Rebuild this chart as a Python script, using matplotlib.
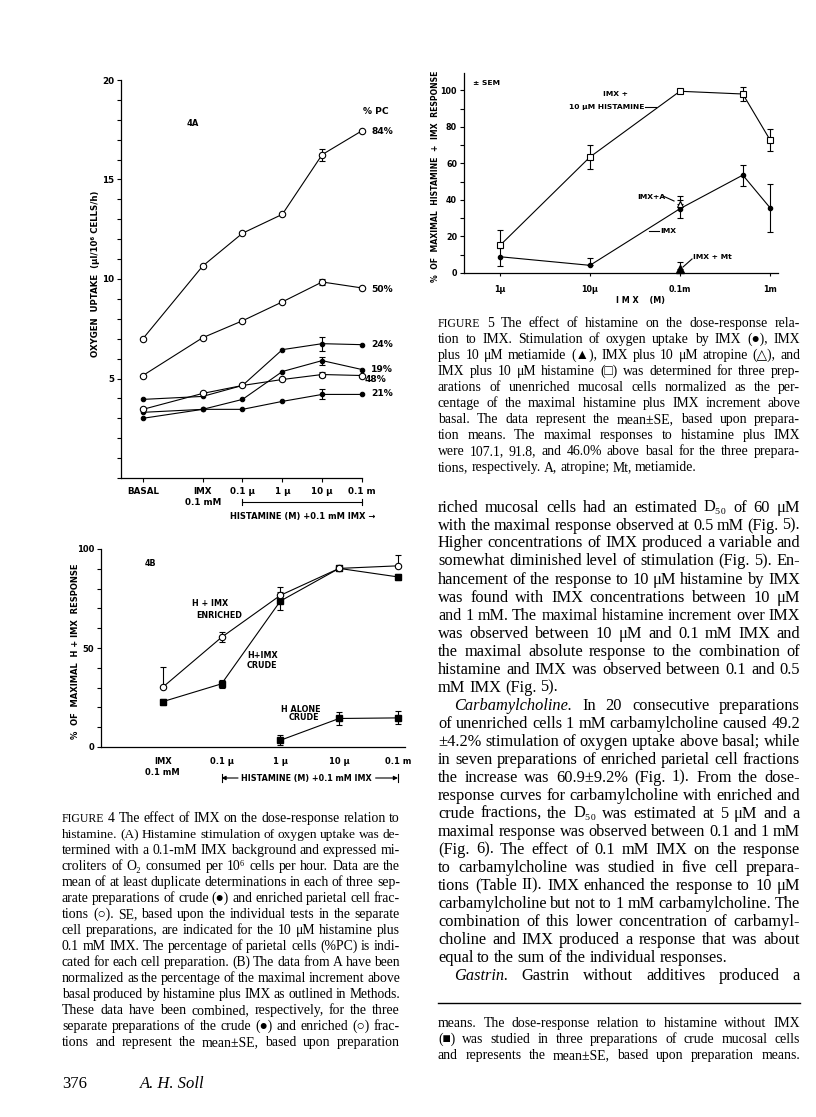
import matplotlib
matplotlib.use('Agg')
import matplotlib.pyplot as plt
from matplotlib.font_manager import FontProperties
from matplotlib.lines import Line2D
from matplotlib.transforms import blended_transform_factory

W, H = 816, 1117

# ---- Figure 4A: oxygen uptake (ul/10^6 cells/h), one line per cell preparation
a_ticks = ['BASAL', 'IMX\n0.1 mM', '0.1 μ', '1 μ', '10 μ', '0.1 m']
a_pos = [-2.5, -1, 0, 1, 2, 3]
a_pc = ['84%', '50%', '24%', '19%', '48%', '21%']
a_open = [True, True, False, False, True, False]
pc84 = [7.0, 10.65, 12.3, 13.25, 16.25, 17.45]
pc50 = [5.15, 7.05, 7.9, 8.85, 9.85, 9.55]
pc24 = [3.95, 4.1, 4.65, 6.45, 6.75, 6.7]
pc19 = [3.3, 3.45, 3.95, 5.35, 5.9, 5.45]
pc48 = [3.45, 4.25, 4.65, 4.95, 5.2, 5.15]
pc21 = [3.0, 3.45, 3.45, 3.85, 4.2, 4.2]
a_err10 = [0.3, 0.15, 0.35, 0.2, 0.12, 0.25]   # SE at 10 uM histamine only

# ---- Figure 4B: % of maximal H + IMX response
b_ticks = ['IMX\n0.1 mM', '0.1 μ', '1 μ', '10 μ', '0.1 m']
b_pos = [0, 1, 2, 3, 4]
enriched = [30.2, 55.4, 76.6, 90.2, 91.5]
enriched_lo = [0, 2.5, 0, 0, 0]
enriched_hi = [10.1, 2.5, 4.2, 0, 5.4]
crude = [22.9, 31.9, 73.7, 90.2, 85.9]
crude_err = [1.5, 2.0, 4.5, 0, 1.5]
alone_pos = [2, 3, 4]
alone = [3.4, 14.4, 14.7]
alone_err = [2.5, 3.4, 3.3]

# ---- Figure 5: IMX dose response (M)
c_conc = [1e-6, 1e-5, 1e-4, 5e-4, 1e-3]
c_ticks = ['1μ', '10μ', '0.1m', '1m']
hist = [15.1, 63.5, 99.5, 98.0, 73.0]
hist_lo = [0, 6.6, 0, 4.0, 6.0]
hist_hi = [8.6, 6.6, 0, 4.0, 6.0]
imx = [8.9, 4.2, 35.2, 53.6, 35.8]
imx_lo = [5.0, 0, 5.0, 5.7, 13.2]
imx_hi = [5.0, 4.0, 5.0, 5.7, 13.2]
atro_conc, atro, atro_err = 1e-4, 38.0, 4.3
meti_conc, meti, meti_err = 1e-4, 2.2, 4.0

# ---- page text
cap4 = [
    "^FIGURE 4 The effect of IMX on the dose-response relation to",
    "histamine. (A) Histamine stimulation of oxygen uptake was de-",
    "termined with a 0.1-mM IMX background and expressed mi-",
    "croliters of O₂ consumed per 10⁶ cells per hour. Data are the",
    "mean of at least duplicate determinations in each of three sep-",
    "arate preparations of crude (●) and enriched parietal cell frac-",
    "tions (○). SE, based upon the individual tests in the separate",
    "cell preparations, are indicated for the 10 μM histamine plus",
    "0.1 mM IMX. The percentage of parietal cells (%PC) is indi-",
    "cated for each cell preparation. (B) The data from A have been",
    "normalized as the percentage of the maximal increment above",
    "basal produced by histamine plus IMX as outlined in Methods.",
    "These data have been combined, respectively, for the three",
    "separate preparations of the crude (●) and enriched (○) frac-",
    "tions and represent the mean±SE, based upon preparation",
]
cap5 = [
    "^FIGURE 5 The effect of histamine on the dose-response rela-",
    "tion to IMX. Stimulation of oxygen uptake by IMX (●), IMX",
    "plus 10 μM metiamide (▲), IMX plus 10 μM atropine (△), and",
    "IMX plus 10 μM histamine (□) was determined for three prep-",
    "arations of unenriched mucosal cells normalized as the per-",
    "centage of the maximal histamine plus IMX increment above",
    "basal. The data represent the mean±SE, based upon prepara-",
    "tion means. The maximal responses to histamine plus IMX",
    "were 107.1, 91.8, and 46.0% above basal for the three prepara-",
    "tions, respectively. A, atropine; Mt, metiamide.",
]
body = [
    "riched mucosal cells had an estimated D₅₀ of 60 μM",
    "with the maximal response observed at 0.5 mM (Fig. 5).",
    "Higher concentrations of IMX produced a variable and",
    "somewhat diminished level of stimulation (Fig. 5). En-",
    "hancement of the response to 10 μM histamine by IMX",
    "was found with IMX concentrations between 10 μM",
    "and 1 mM. The maximal histamine increment over IMX",
    "was observed between 10 μM and 0.1 mM IMX and",
    "the maximal absolute response to the combination of",
    "histamine and IMX was observed between 0.1 and 0.5",
    "mM IMX (Fig. 5).",
    ">*Carbamylcholine. In 20 consecutive preparations",
    "of unenriched cells 1 mM carbamylcholine caused 49.2",
    "±4.2% stimulation of oxygen uptake above basal; while",
    "in seven preparations of enriched parietal cell fractions",
    "the increase was 60.9±9.2% (Fig. 1). From the dose-",
    "response curves for carbamylcholine with enriched and",
    "crude fractions, the D₅₀ was estimated at 5 μM and a",
    "maximal response was observed between 0.1 and 1 mM",
    "(Fig. 6). The effect of 0.1 mM IMX on the response",
    "to carbamylcholine was studied in five cell prepara-",
    "tions (Table II). IMX enhanced the response to 10 μM",
    "carbamylcholine but not to 1 mM carbamylcholine. The",
    "combination of this lower concentration of carbamyl-",
    "choline and IMX produced a response that was about",
    "equal to the sum of the individual responses.",
    ">*Gastrin. Gastrin without additives produced a",
]
foot = [
    "means. The dose-response relation to histamine without IMX",
    "(■) was studied in three preparations of crude mucosal cells",
    "and represents the mean±SE, based upon preparation means.",
]

plt.rcParams['font.family'] = ['DejaVu Sans']
plt.rcParams['font.weight'] = 'bold'
SERIF = ['Liberation Serif', 'DejaVu Serif', 'DejaVu Sans']

fig = plt.figure(figsize=(W / 100, H / 100), dpi=100)
fig.patch.set_facecolor('white')


def rect(x0, y0, x1, y1):
    return [x0 / W, 1 - y1 / H, (x1 - x0) / W, (y1 - y0) / H]


def label(x, y, s, size=6.0, ha='left', **kw):
    fig.text(x / W, 1 - y / H, s, fontsize=size, ha=ha, va='center', **kw)


def seg(x0, y0, x1, y1, lw=0.8):
    fig.add_artist(Line2D([x0 / W, x1 / W], [1 - y0 / H, 1 - y1 / H], color='k', lw=lw))


def style(ax, size):
    for s in ['top', 'right']:
        ax.spines[s].set_visible(False)
    for s in ['left', 'bottom']:
        ax.spines[s].set_linewidth(0.9)
    ax.tick_params(which='both', direction='out', width=0.8, length=3, labelsize=size, pad=2)
    ax.set_facecolor('none')


# ================= Figure 4A =================
ax = fig.add_axes(rect(121, 80, 362, 478))
style(ax, 6.3)
series = [pc84, pc50, pc24, pc19, pc48, pc21]
for vals, err, op in zip(series, a_err10, a_open):
    ax.plot(a_pos, vals, '-o', color='k', lw=0.8, ms=4.6 if op else 3.2,
            mfc='white' if op else 'k', mec='k', mew=0.8, clip_on=False, zorder=3)
    ax.errorbar(a_pos[4], vals[4], yerr=err, fmt='none', ecolor='k', elinewidth=0.8,
                capsize=2.5, capthick=0.8, clip_on=False)
ax.set_xlim(-3.05, 3)
ax.set_ylim(0, 20)
ax.set_xticks(a_pos, a_ticks)
ax.set_yticks([5, 10, 15, 20], ['5', '10', '15', '20'])
ax.set_yticks(range(0, 21), minor=True)
ax.tick_params(axis='x', pad=3.5)
for t in ax.get_xticklabels():
    t.set_linespacing(1.3)
for s, y in zip(a_pc, [131, 289, 345, 369, 380, 394]):
    label(365 if s == '48%' else 371, y, s, size=6.6)
label(363, 112, '% PC', size=6.6)
label(187, 123, '4A', size=6.0)
label(95, 274, 'OXYGEN  UPTAKE  (μl/10⁶ CELLS/h)', size=6.2, ha='center', rotation=90)
tr = blended_transform_factory(ax.transData, fig.transFigure)
yb = 1 - 502 / H
ax.plot([0, 3], [yb, yb], color='k', lw=0.8, transform=tr, clip_on=False)
for xe in [0, 3]:
    ax.plot([xe, xe], [yb - 3 / H, yb + 3 / H], color='k', lw=0.8, transform=tr, clip_on=False)
label(230, 516, 'HISTAMINE (M) +0.1 mM IMX →', size=6.0)

# ================= Figure 4B =================
ax = fig.add_axes(rect(101, 549, 405, 747))
style(ax, 6.0)
ax.plot(b_pos, enriched, '-o', color='k', lw=0.8, ms=4.6, mfc='white', mew=0.8, clip_on=False, zorder=4)
ax.errorbar(b_pos, enriched, yerr=[enriched_lo, enriched_hi], fmt='none', ecolor='k',
            elinewidth=0.8, capsize=2.5, capthick=0.8, clip_on=False)
ax.plot(b_pos, crude, '-s', color='k', lw=0.8, ms=4.0, mfc='k', clip_on=False, zorder=3)
ax.errorbar(b_pos, crude, yerr=crude_err, fmt='none', ecolor='k', elinewidth=0.8,
            capsize=2.5, capthick=0.8, clip_on=False)
ax.plot(alone_pos, alone, '-s', color='k', lw=0.8, ms=4.0, mfc='k', clip_on=False, zorder=3)
ax.errorbar(alone_pos, alone, yerr=alone_err, fmt='none', ecolor='k', elinewidth=0.8,
            capsize=2.5, capthick=0.8, clip_on=False)
ax.set_xlim(-1.05, 4.12)
ax.set_ylim(0, 100)
ax.set_xticks(b_pos, b_ticks)
ax.set_yticks([0, 50, 100], ['0', '50', '100'])
ax.set_yticks(range(0, 101, 10), minor=True)
ax.tick_params(axis='x', length=0, pad=7)
for t in ax.get_xticklabels():
    t.set_linespacing(1.3)
label(145, 563, '4B', size=5.8)
label(192, 603, 'H + IMX', size=5.8)
label(196, 615, 'ENRICHED', size=5.8)
label(247, 655, 'H+IMX', size=5.8)
label(247, 665, 'CRUDE', size=5.8)
label(281, 709, 'H ALONE', size=5.8)
label(289, 718, 'CRUDE', size=5.8)
label(75, 651, '%  OF  MAXIMAL  H + IMX  RESPONSE', size=6.0, ha='center', rotation=90)
tr = blended_transform_factory(ax.transData, fig.transFigure)
yb = 1 - 778 / H
label(306, 778, 'HISTAMINE (M) +0.1 mM IMX', size=5.8, ha='center')
arrow = dict(arrowstyle='-|>', lw=0.8, color='k', mutation_scale=6, shrinkA=0, shrinkB=0)
ax.annotate('', xy=(1, yb), xytext=(1.28, yb), xycoords=tr, textcoords=tr, arrowprops=arrow)
ax.annotate('', xy=(4, yb), xytext=(3.62, yb), xycoords=tr, textcoords=tr, arrowprops=arrow)
for xe in [1, 4]:
    ax.plot([xe, xe], [yb - 4 / H, yb + 4 / H], color='k', lw=0.8, transform=tr, clip_on=False)

# ================= Figure 5 =================
ax = fig.add_axes(rect(464, 73, 778, 273))
style(ax, 5.8)
ax.set_xscale('log')
ax.plot(c_conc, hist, '-s', color='k', lw=0.8, ms=4.4, mfc='white', mew=0.8, clip_on=False, zorder=3)
ax.errorbar(c_conc, hist, yerr=[hist_lo, hist_hi], fmt='none', ecolor='k', elinewidth=0.8,
            capsize=2.5, capthick=0.8, clip_on=False)
ax.plot(c_conc, imx, '-o', color='k', lw=0.8, ms=3.0, clip_on=False, zorder=3)
ax.errorbar(c_conc, imx, yerr=[imx_lo, imx_hi], fmt='none', ecolor='k', elinewidth=0.8,
            capsize=2.5, capthick=0.8, clip_on=False)
ax.errorbar([atro_conc], [atro], yerr=[[0], [atro_err]], fmt='^', ms=5, mfc='white', mec='k',
            mew=0.8, ecolor='k', elinewidth=0.8, capsize=2.5, capthick=0.8, clip_on=False, zorder=4)
ax.errorbar([meti_conc], [meti], yerr=[[0], [meti_err]], fmt='^', ms=5.5, mfc='k', mec='k',
            ecolor='k', elinewidth=0.8, capsize=2.5, capthick=0.8, clip_on=False, zorder=4)
ax.set_xlim(10 ** -6.4, 10 ** -2.91)
ax.set_ylim(0, 109.5)
ax.set_xticks([1e-6, 1e-5, 1e-4, 1e-3], c_ticks)
ax.set_xticks([], minor=True)
ax.set_yticks(range(0, 101, 20), [str(v) for v in range(0, 101, 20)])
ax.set_yticks(range(0, 101, 10), minor=True)
ax.tick_params(axis='x', length=2, pad=7)
label(640, 301, 'I M X    (M)', size=5.8, ha='center')
label(435, 176, '%  OF  MAXIMAL  HISTAMINE  +  IMX  RESPONSE', size=5.6, ha='center', rotation=90)
label(473, 83, '± SEM', size=5.4)
label(603, 94, 'IMX +', size=5.4)
label(569, 107, '10 μM HISTAMINE', size=5.4)
seg(645, 107, 656, 107)
label(637, 197, 'IMX+A', size=5.4)
seg(663, 196, 674, 201)
seg(649, 231, 659, 231)
label(660, 231, 'IMX', size=5.4)
label(693, 257, 'IMX + Mt', size=5.4)
seg(683, 267, 692, 259)


# ================= page text =================
def fp(size, st='normal'):
    return FontProperties(family=SERIF, size=size, style=st, weight='normal')


def column(lines, x0, x1, base0, step, ragged=(), size=None, indent=16, q=0.8):
    r = fig.canvas.get_renderer()

    def split(line, sz):
        ind = indent if line.startswith('>') else 0
        items = []
        for w in line.lstrip('>').split():
            st, k = 'normal', 1.0
            if w.startswith('*'):
                w, st = w[1:], 'italic'
            if w.startswith('^'):
                w, k = w[1:], 0.86
            p = fp(sz * k, st)
            items.append((w, p, r.get_text_width_height_descent(w, p, ismath=False)[0]))
        return ind, items

    def ratio(line):
        # natural width at size 10 over the space available
        ind, items = split(line, 10)
        return (sum(it[2] for it in items) + 3.2 * (len(items) - 1)) / (x1 - x0 - ind)

    if size is None:
        rs = sorted(ratio(l) for i, l in enumerate(lines) if i not in ragged)
        size = 10 / rs[int(q * (len(rs) - 1))]
    for i, line in enumerate(lines):
        sz = size
        if i not in ragged:
            sz = min(size, 10 / ratio(line))
        ind, items = split(line, sz)
        y = 1 - (base0 + i * step) / H
        tot = sum(it[2] for it in items)
        gap = 0.32 * sz
        if i not in ragged and len(items) > 1:
            gap = (x1 - x0 - ind - tot) / (len(items) - 1)
        x = x0 + ind
        for w, p, wd in items:
            fig.text(x / W, y, w, fontproperties=p, va='baseline', ha='left')
            x += wd + gap
    return size


csize = column(cap4, 62, 400, 822, 16)
column(cap5, 438, 800, 327, 16, ragged=(9,), size=csize)
column(body, 438, 800, 511.5, 18, ragged=(10, 25))
column(foot, 438, 800, 1027, 16, size=csize)
seg(438, 1003, 800, 1003, lw=1.0)
fig.text(62 / W, 1 - 1088 / H, '376', fontproperties=fp(12))
fig.text(140 / W, 1 - 1088 / H, 'A. H. Soll', fontproperties=fp(12, 'italic'))

fig.savefig('out.png', dpi=100)
